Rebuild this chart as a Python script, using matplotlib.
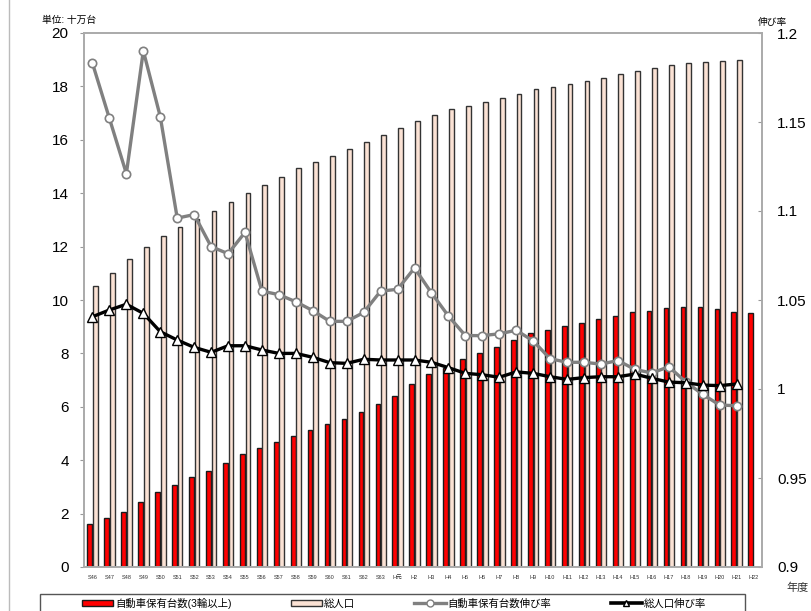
import numpy as np
import matplotlib.pyplot as plt
from matplotlib.lines import Line2D
from matplotlib.patches import Patch, Rectangle

plt.rcParams['font.family'] = ['Liberation Sans', 'Noto Sans CJK JP', 'DejaVu Sans']

# years (Showa 46 .. Heisei 22)
years = ['S%d' % y for y in range(46, 64)] + ['H元'] + ['H%d' % y for y in range(2, 23)]

# vehicles owned (3+ wheels), unit: 100k
cars = [1.60, 1.82, 2.07, 2.42, 2.80, 3.07, 3.36, 3.61, 3.88, 4.22,
        4.47, 4.70, 4.92, 5.13, 5.34, 5.56, 5.79, 6.09, 6.42, 6.87,
        7.22, 7.45, 7.79, 8.00, 8.25, 8.50, 8.75, 8.89, 9.03, 9.15,
        9.29, 9.41, 9.54, 9.60, 9.71, 9.75, 9.73, 9.65, 9.56, 9.52]
# total population (left axis scale), no value for H22
pop = [10.52, 11.00, 11.52, 12.00, 12.41, 12.75, 13.03, 13.35, 13.67, 14.00,
       14.31, 14.62, 14.93, 15.18, 15.41, 15.64, 15.90, 16.17, 16.44, 16.70,
       16.93, 17.15, 17.27, 17.42, 17.55, 17.70, 17.89, 17.99, 18.09, 18.19,
       18.33, 18.46, 18.59, 18.70, 18.80, 18.86, 18.90, 18.95, 18.99]
# growth rates (right axis), S46 .. H21
car_rate = [1.183, 1.152, 1.121, 1.190, 1.153, 1.096, 1.098, 1.080, 1.076, 1.088,
            1.055, 1.053, 1.049, 1.044, 1.038, 1.038, 1.043, 1.055, 1.056, 1.068,
            1.054, 1.041, 1.030, 1.030, 1.031, 1.033, 1.027, 1.017, 1.015, 1.015,
            1.014, 1.016, 1.011, 1.009, 1.0125, 1.004, 0.997, 0.991, 0.9906]
pop_rate = [1.0406, 1.0444, 1.0476, 1.0425, 1.0322, 1.0275, 1.0234, 1.0206, 1.0243, 1.0243,
            1.0219, 1.0200, 1.0200, 1.0178, 1.0148, 1.0144, 1.0167, 1.0163, 1.0163, 1.0163,
            1.0150, 1.0120, 1.0088, 1.0080, 1.0066, 1.0096, 1.0088, 1.0069, 1.0054, 1.0064,
            1.0069, 1.0069, 1.0084, 1.0060, 1.0039, 1.0035, 1.0022, 1.0019, 1.0028]

x = np.arange(len(years))
fig = plt.figure(figsize=(8.12, 6.11), dpi=100)
ax = fig.add_axes([84/812, 1-567/611, (762-84)/812, (567-33)/611])
ax2 = ax.twinx()

w = 0.28
ax.bar(x - 0.16, cars, w, color='#ff0000', edgecolor='#1a1a1a', linewidth=1.0)
ax.bar(x[:len(pop)] + 0.17, pop, w, color='#fbe2d4', edgecolor='#333333', linewidth=1.0)

ax2.plot(x[:len(car_rate)], car_rate, color='#808080', lw=2.4, marker='o', ms=6,
         mfc='white', mec='#808080', mew=1.2)
ax2.plot(x[:len(pop_rate)], pop_rate, color='black', lw=2.4, marker='^', ms=7,
         mfc='white', mec='black', mew=1.0)

ax.set_xlim(-0.5, len(years) - 0.5)
ax.set_ylim(0, 20)
ax.set_yticks(range(0, 21, 2))
ax2.set_ylim(0.9, 1.2)
ax2.set_yticks([0.9, 0.95, 1.0, 1.05, 1.1, 1.15, 1.2])
ax2.set_yticklabels(['0.9', '0.95', '1', '1.05', '1.1', '1.15', '1.2'])
ax.set_xticks(x)
ax.set_xticklabels(years, fontsize=4, color='#333333')
ax.tick_params(axis='x', length=0, pad=6)
ax.tick_params(axis='y', labelsize=11, length=3, color='#999999', pad=8)
ax2.tick_params(axis='y', labelsize=11, length=3, direction='in', color='#999999', pad=11)

for a in (ax, ax2):
    for s in a.spines.values():
        s.set_color('#aaaaaa')
        s.set_linewidth(1.2)

fig.text(42/812, 1-20/611, '単位: 十万台', fontsize=7, va='center', ha='left')
fig.text(758/812, 1-22/611, '伸び率', fontsize=7, va='center', ha='left')
fig.text(786/812, 1-588/611, '年度', fontsize=8, va='center', ha='left', color='#333333')

# left border line
fig.add_artist(Line2D([9/812, 9/812], [0, 1], color='#bbbbbb', lw=1))

# legend frame (cut off at the bottom edge)
top = 1 - 594/611
fig.add_artist(Rectangle((40/812, top - 0.06), 705/812, 0.06, transform=fig.transFigure,
                         fill=False, edgecolor='#555555', lw=1.0))

handles = [Patch(facecolor='#ff0000', edgecolor='#1a1a1a', lw=1.0),
           Patch(facecolor='#fbe2d4', edgecolor='#333333', lw=1.0),
           Line2D([], [], color='#808080', lw=2.4, marker='o', ms=5, mfc='white', mec='#808080'),
           Line2D([], [], color='black', lw=2.6, marker='^', ms=5, mfc='white', mec='black')]
labels = ['自動車保有台数(3輪以上)', '総人口', '自動車保有台数伸び率', '総人口伸び率']
fig.legend(handles, labels, loc='upper left', bbox_to_anchor=(78/812, top - 0.05, 632/812, 0.05),
           mode='expand', ncol=4, fontsize=7.5, frameon=False,
           handlelength=3.0, handleheight=0.6, handletextpad=0.2,
           borderpad=0.35, borderaxespad=0)

fig.savefig('out.png', dpi=100)
